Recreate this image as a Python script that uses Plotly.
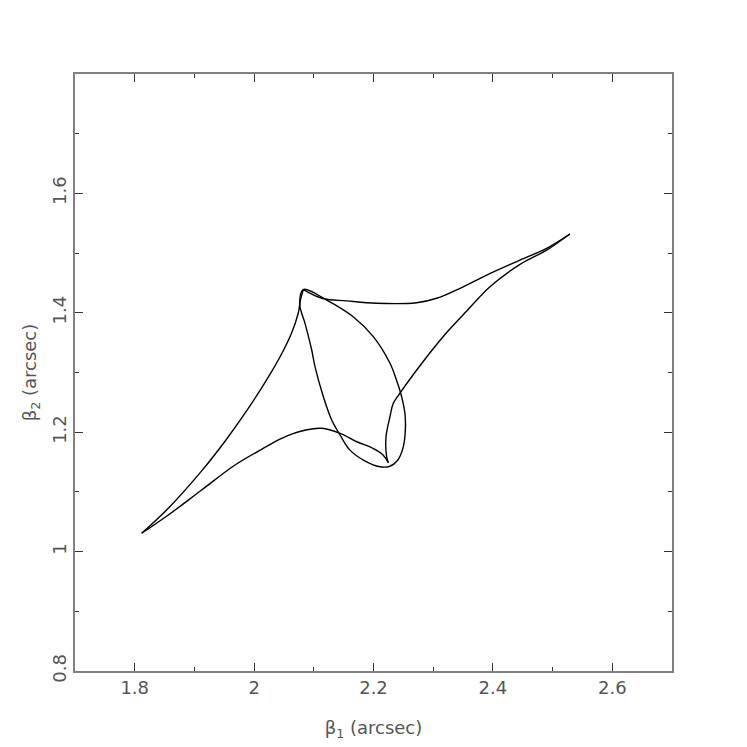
import plotly.graph_objects as go

# outer caustic, four arcs between cusps (beta1, beta2 in arcsec)
left_arc_x = [1.8117, 1.8563, 1.9122, 1.9513, 1.9848, 2.0238, 2.0462, 2.063, 2.074, 2.0775, 2.0824]
left_arc_y = [1.0307, 1.0726, 1.1352, 1.1849, 1.2318, 1.2922, 1.3314, 1.3667, 1.3997, 1.4207, 1.439]

top_arc_x = [2.0824, 2.115, 2.155, 2.205, 2.2723, 2.3058, 2.3449, 2.3896, 2.4454, 2.490, 2.529]
top_arc_y = [1.439, 1.424, 1.420, 1.416, 1.4169, 1.4243, 1.441, 1.4633, 1.4884, 1.508, 1.532]

right_arc_x = [2.529, 2.490, 2.4454, 2.3951, 2.3561, 2.3226, 2.2946, 2.244, 2.233, 2.2276, 2.221, 2.222, 2.2248]
right_arc_y = [1.532, 1.505, 1.481, 1.4437, 1.403, 1.367, 1.333, 1.265, 1.248, 1.226, 1.1925, 1.159, 1.149]

bottom_arc_x = [2.2248, 2.216, 2.199, 2.172, 2.144, 2.1132, 2.0797, 2.0462, 2.0127, 1.968, 1.9122, 1.8563, 1.8117]
bottom_arc_y = [1.149, 1.162, 1.173, 1.184, 1.198, 1.2065, 1.202, 1.1898, 1.1713, 1.145, 1.1032, 1.0613, 1.0307]

# inner loop through the top cusp
loop_x = [2.0824, 2.0765, 2.0853, 2.0965, 2.102, 2.116, 2.130, 2.144, 2.1606, 2.183, 2.2109, 2.2276,
          2.2405, 2.249, 2.253, 2.253, 2.2475, 2.2386, 2.2276, 2.1997, 2.166, 2.1216, 2.0824]
loop_y = [1.439, 1.414, 1.3824, 1.3377, 1.3097, 1.2595, 1.2204, 1.1953, 1.170, 1.1534, 1.1422, 1.143,
          1.153, 1.172, 1.197, 1.228, 1.258, 1.287, 1.3154, 1.360, 1.3935, 1.4214, 1.439]

fig = go.Figure()
for xs, ys in [(left_arc_x, left_arc_y), (top_arc_x, top_arc_y), (right_arc_x, right_arc_y),
               (bottom_arc_x, bottom_arc_y), (loop_x, loop_y)]:
    fig.add_trace(go.Scatter(x=xs, y=ys, mode='lines',
                             line=dict(color='black', width=1.4, shape='spline', smoothing=1.0),
                             showlegend=False, hoverinfo='skip'))

font = dict(family='DejaVu Sans', size=18, color='#555555')
axis_common = dict(
    showgrid=False, zeroline=False, automargin=False,
    showline=True, linecolor='#808080', linewidth=1.5, mirror='allticks',
    ticks='inside', ticklen=8, tickwidth=1, tickcolor='#333333',
    tickfont=font,
)
fig.update_xaxes(range=[1.7, 2.7],
                 tickvals=[1.8, 2.0, 2.2, 2.4, 2.6],
                 ticktext=['1.8', '2', '2.2', '2.4', '2.6'],
                 minor=dict(ticks='inside', ticklen=4, dtick=0.1, tick0=1.7, tickcolor='#333333'),
                 title=dict(text='β<sub>1</sub> (arcsec)', font=font, standoff=24),
                 **axis_common)
fig.update_yaxes(range=[0.8, 1.8],
                 tickvals=[0.8, 1.0, 1.2, 1.4, 1.6],
                 ticktext=['0.8', '1', '1.2', '1.4', '1.6'],
                 tickangle=-90,
                 minor=dict(ticks='inside', ticklen=4, dtick=0.1, tick0=0.8, tickcolor='#333333'),
                 title=dict(text='β<sub>2</sub> (arcsec)', font=font, standoff=8),
                 **axis_common)
# page body adds an 8px offset, so the figure is trimmed to keep the frame in place
fig.update_layout(width=739, height=739,
                  margin=dict(l=67, r=75, t=66, b=76),
                  plot_bgcolor='white', paper_bgcolor='white')

fig.write_html("out.html")
